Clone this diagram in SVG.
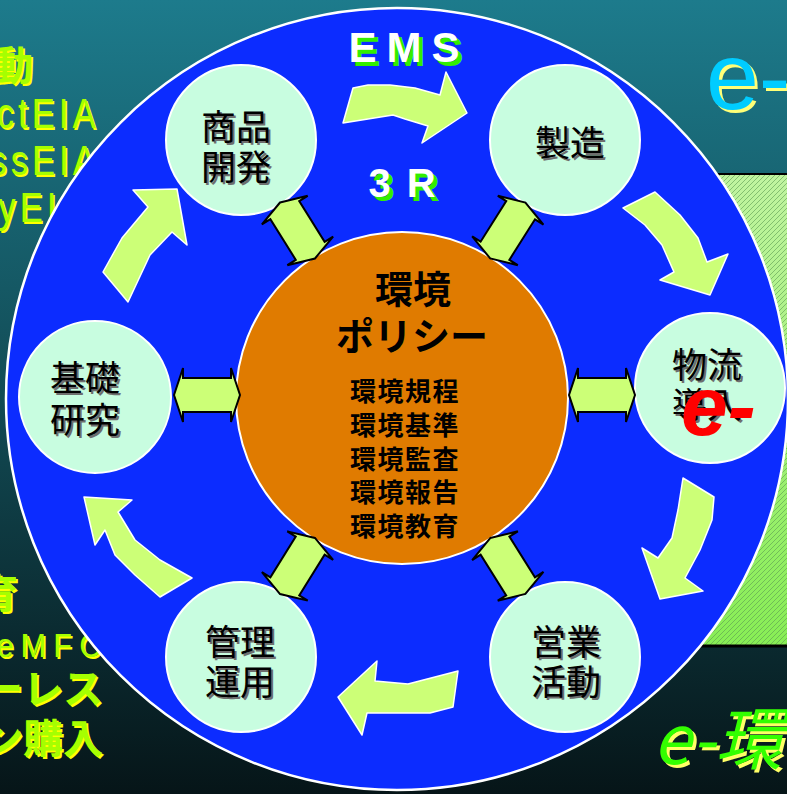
<svg xmlns="http://www.w3.org/2000/svg" width="787" height="794" viewBox="0 0 787 794">
<defs>
<linearGradient id="bg" x1="0" y1="0" x2="0" y2="1">
<stop offset="0" stop-color="#1d7b8c"/>
<stop offset="0.5" stop-color="#124b55"/>
<stop offset="1" stop-color="#061518"/>
</linearGradient>
<linearGradient id="hg" x1="0" y1="0" x2="0" y2="1">
<stop offset="0" stop-color="#c0f4a0"/>
<stop offset="1" stop-color="#88ee55"/>
</linearGradient>
<pattern id="hatch" width="5" height="5" patternUnits="userSpaceOnUse">
<path d="M-1,6 L6,-1" stroke="#5a9a50" stroke-width="0.6"/>
</pattern>
<polygon id="dbl" points="-33,0 -24,-27 -24,-17 24,-17 24,-27 33,0 24,27 24,17 -24,17 -24,27"/>
</defs>
<style>
.cjk{font-family:"Noto Sans CJK JP","Noto Sans",sans-serif}
.lat{font-family:"Liberation Sans",Arial,sans-serif}
.node{fill:#c8fde0;stroke:#fff;stroke-width:2}
.lbl{font-family:"Noto Sans CJK JP",sans-serif;font-size:35px;text-anchor:middle;fill:#000}
.lbls{font-family:"Noto Sans CJK JP",sans-serif;font-size:35px;text-anchor:middle;fill:#6e6e6e}
.cyc{fill:#ccff77;stroke:#fff;stroke-width:1.5;stroke-linejoin:round}
.dbl{fill:#ccff77;stroke:#000;stroke-width:2;stroke-linejoin:miter}
.side{font-family:"Noto Sans CJK JP",sans-serif;font-weight:bold;font-size:40px}
.sideL{font-family:"Liberation Sans",Arial,sans-serif;font-size:42px}
.gy{fill:#ffff00}
.gg{fill:#a6ff00}
.pol{font-family:"Noto Sans CJK JP",sans-serif;font-weight:bold;fill:#000;text-anchor:middle}
</style>

<rect x="0" y="0" width="787" height="794" fill="url(#bg)"/>
<g id="hatch-panel">
<rect x="690" y="174" width="100" height="471" fill="url(#hg)"/>
<rect x="690" y="174" width="100" height="471" fill="url(#hatch)"/>
<line x1="690" y1="174" x2="787" y2="174" stroke="#000" stroke-width="2"/>
<line x1="690" y1="646" x2="787" y2="646" stroke="#000" stroke-width="3"/>
</g>

<g id="left-texts">
<text class="side gy" x="-5" y="82">動</text>
<text class="side gg" x="-7" y="80">動</text>
<g transform="translate(0,128) scale(0.82,1)">
<text class="sideL gy" x="-2" y="2" letter-spacing="5">ctEIA</text>
<text class="sideL gg" x="-4" y="0" letter-spacing="5">ctEIA</text>
</g>
<g transform="translate(0,175) scale(0.82,1)">
<text class="sideL gy" x="-11" y="2" letter-spacing="5">ssEIA</text>
<text class="sideL gg" x="-13" y="0" letter-spacing="5">ssEIA</text>
</g>
<g transform="translate(0,222) scale(0.82,1)">
<text class="sideL gy" x="0" y="2" letter-spacing="5">yEI</text>
<text class="sideL gg" x="-2" y="0" letter-spacing="5">yEI</text>
</g>
<text class="side gy" x="-20" y="610">育</text>
<text class="side gg" x="-22" y="608">育</text>
<g transform="translate(0,657) scale(0.9,1)">
<text class="lat gy" x="-2" y="2" font-size="34" letter-spacing="8">eMFC</text>
<text class="lat gg" x="-4" y="0" font-size="34" letter-spacing="8">eMFC</text>
</g>
<text class="side gy" x="-15" y="705">ーレス</text>
<text class="side gg" x="-17" y="703">ーレス</text>
<text class="side gy" x="-15" y="755">ン購入</text>
<text class="side gg" x="-17" y="753">ン購入</text>
</g>

<g id="right-texts">
<text class="lat" x="709" y="112" font-size="95" fill="#ffff77">e-</text>
<text class="lat" x="706" y="109" font-size="95" fill="#00ccff">e-</text>
</g>

<g id="main-circle">
<circle cx="397" cy="399" r="391" fill="#0c2cff" stroke="#fff" stroke-width="2.5"/>
</g>

<g id="ems-label">
<text class="lat" x="413" y="66" font-size="42" font-weight="bold" text-anchor="middle" letter-spacing="10" fill="#33ee00">EMS</text>
<text class="lat" x="409" y="62" font-size="42" font-weight="bold" text-anchor="middle" letter-spacing="10" fill="#fff">EMS</text>
</g>
<g id="r3-label">
<text class="lat" x="414" y="201" font-size="40" font-weight="bold" text-anchor="middle" letter-spacing="16" fill="#33ee00">3R</text>
<text class="lat" x="410" y="197" font-size="40" font-weight="bold" text-anchor="middle" letter-spacing="16" fill="#fff">3R</text>
</g>

<g id="center-policy">
<circle cx="402" cy="398" r="166" fill="#e07b00" stroke="#fff" stroke-width="2"/>
<text class="pol" x="413" y="303" font-size="38">環境</text>
<text class="pol" x="412" y="350" font-size="38">ポリシー</text>
<text class="pol" x="405" y="401" font-size="26" letter-spacing="1.5">環境規程</text>
<text class="pol" x="405" y="435" font-size="26" letter-spacing="1.5">環境基準</text>
<text class="pol" x="405" y="469" font-size="26" letter-spacing="1.5">環境監査</text>
<text class="pol" x="405" y="502" font-size="26" letter-spacing="1.5">環境報告</text>
<text class="pol" x="405" y="536" font-size="26" letter-spacing="1.5">環境教育</text>
</g>

<g id="node-shohin">
<circle class="node" cx="241" cy="140" r="75"/>
<text class="lbls" x="238" y="142">商品</text><text class="lbl" x="236" y="140">商品</text>
<text class="lbls" x="238" y="182">開発</text><text class="lbl" x="236" y="180">開発</text>
</g>
<g id="node-seizo">
<circle class="node" cx="565" cy="140" r="75"/>
<text class="lbls" x="572" y="158">製造</text><text class="lbl" x="570" y="156">製造</text>
</g>
<g id="node-butsuryu">
<circle class="node" cx="710" cy="388" r="75"/>
<text class="lbls" x="709" y="380">物流</text><text class="lbl" x="707" y="378">物流</text>
<text class="lbls" x="709" y="420">導入</text><text class="lbl" x="707" y="418">導入</text>
</g>
<g id="node-eigyo">
<circle class="node" cx="565" cy="657" r="75"/>
<text class="lbls" x="568" y="657">営業</text><text class="lbl" x="566" y="655">営業</text>
<text class="lbls" x="568" y="697">活動</text><text class="lbl" x="566" y="695">活動</text>
</g>
<g id="node-kanri">
<circle class="node" cx="241" cy="657" r="75"/>
<text class="lbls" x="242" y="657">管理</text><text class="lbl" x="240" y="655">管理</text>
<text class="lbls" x="242" y="697">運用</text><text class="lbl" x="240" y="695">運用</text>
</g>
<g id="node-kiso">
<circle class="node" cx="95" cy="397" r="76"/>
<text class="lbls" x="87" y="393">基礎</text><text class="lbl" x="85" y="391">基礎</text>
<text class="lbls" x="87" y="435">研究</text><text class="lbl" x="85" y="433">研究</text>
</g>

<g id="connectors">
<polygon class="cyc" points="353,88 368,85 390,85 415,88 440,95 446,72 467,113 422,143 428,126 405,119 393,115 343,123"/>
<polygon class="cyc" points="623,208 655,192 680,215 698,238 707,262 728,254 710,295 660,280 674,272 662,245 645,225"/>
<polygon class="cyc" points="683,478 714,497 712,520 700,550 685,578 703,591 660,599 642,548 658,558 672,538 678,510"/>
<polygon class="cyc" points="458,671 453,707 430,713 367,713 362,735 338,697 377,661 375,681 408,684"/>
<polygon class="cyc" points="192,578 160,597 135,575 115,555 105,530 95,545 84,497 132,500 118,512 135,540 160,560"/>
<polygon class="cyc" points="177,189 187,245 172,232 150,255 128,302 103,272 122,238 148,207 133,190"/>
<use href="#dbl" class="dbl" transform="translate(297.5,230.5) rotate(58)"/>
<use href="#dbl" class="dbl" transform="translate(507.8,230.5) rotate(-57.7)"/>
<use href="#dbl" class="dbl" transform="translate(297.5,566) rotate(-58.1)"/>
<use href="#dbl" class="dbl" transform="translate(507.8,566) rotate(57.8)"/>
<use href="#dbl" class="dbl" transform="translate(207,395)"/>
<use href="#dbl" class="dbl" transform="translate(602,395)"/>
</g>

<g id="overlay-texts">
<text class="lat" x="681" y="435" font-size="84" font-weight="bold" font-style="italic" fill="#ff0000">e-</text>
<text class="cjk" x="656" y="767" font-size="68" font-style="italic" fill="#ffff66">e-環境</text>
<text class="cjk" x="653" y="764" font-size="68" font-style="italic" fill="#33ff00">e-環境</text>
</g>
</svg>
